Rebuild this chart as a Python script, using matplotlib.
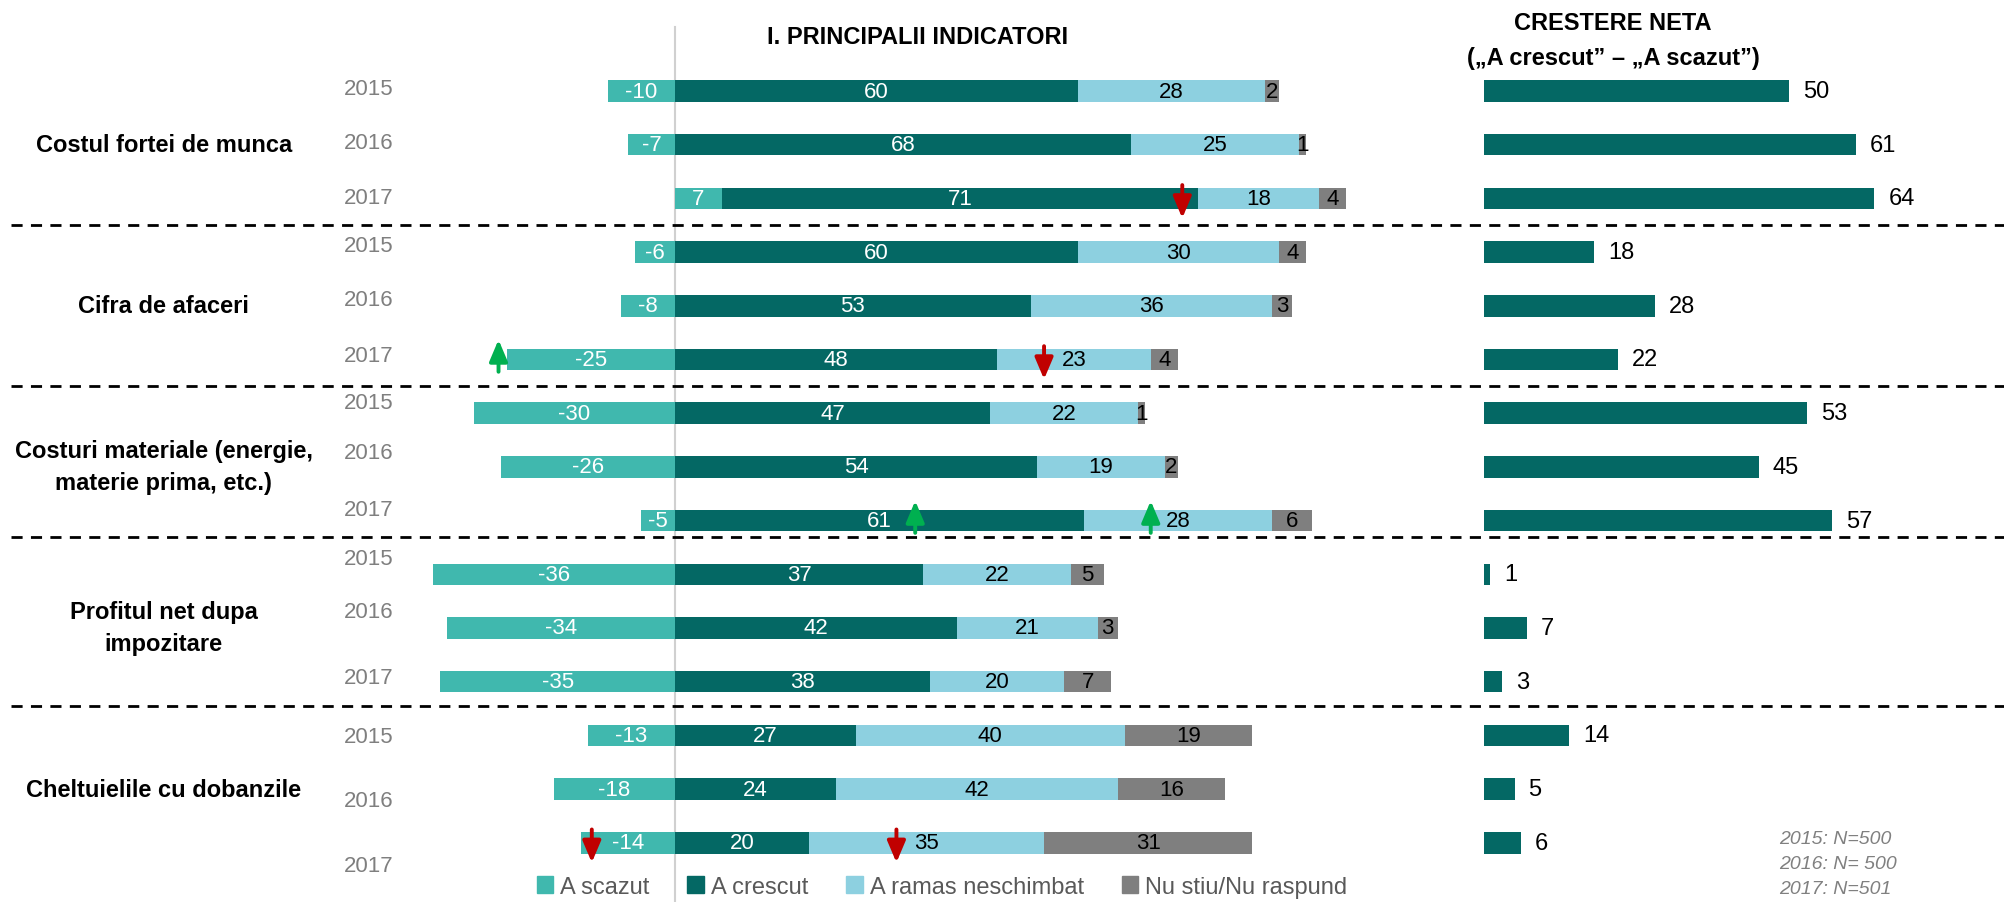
import matplotlib
matplotlib.use("Agg")
import matplotlib.pyplot as plt
from matplotlib.patches import Patch
import numpy as np

plt.rcParams['font.family'] = ['Liberation Sans Narrow', 'Liberation Sans', 'DejaVu Sans']

# data (percent)
categories = ["Costul fortei de munca", "Cifra de afaceri",
              "Costuri materiale (energie,\nmaterie prima, etc.)",
              "Profitul net dupa\nimpozitare", "Cheltuielile cu dobanzile"]
years = ["2015", "2016", "2017"]
scazut = [-10, -7, 7, -6, -8, -25, -30, -26, -5, -36, -34, -35, -13, -18, -14]
crescut = [60, 68, 71, 60, 53, 48, 47, 54, 61, 37, 42, 38, 27, 24, 20]
ramas = [28, 25, 18, 30, 36, 23, 22, 19, 28, 22, 21, 20, 40, 42, 35]
nustiu = [2, 1, 4, 4, 3, 4, 1, 2, 6, 5, 3, 7, 19, 16, 31]
net = [50, 61, 64, 18, 28, 22, 53, 45, 57, 1, 7, 3, 14, 5, 6]
# significance arrows: (row, x, direction)
arrows = [(2, 75.6, "down"), (5, -26.3, "up"), (5, 55, "down"),
          (8, 35.8, "up"), (8, 70.9, "up"), (14, -12.4, "down"), (14, 33, "down")]
legend_labels = ["A scazut", "A crescut", "A ramas neschimbat", "Nu stiu/Nu raspund"]
notes = ["2015: N=500", "2016: N= 500", "2017: N=501"]

# layout: vertical nudges of the year labels (in rows), as in the original slide
year_dy = [-0.05, -0.05, -0.02, -0.12, -0.12, -0.07, -0.19, -0.26, -0.21,
           -0.29, -0.31, -0.07, 0.02, 0.21, 0.43]

c_scazut = "#40B8AE"
c_crescut = "#046864"
c_ramas = "#8DD0E0"
c_nustiu = "#7F7F7F"

W, H = 2004, 903
fig = plt.figure(figsize=(W / 100, H / 100), dpi=100)

# main axes over full figure: zero at x=675px, 6.71 px/unit; rows 53.7 px apart from y=92px
px_u = 6.71
row_px = 53.7
ax = fig.add_axes([0, 0, 1, 1])
ax.set_xlim(-675 / px_u, (W - 675) / px_u)
ax.set_ylim((H - 92) / row_px, -92 / row_px)
ax.axis("off")

rows = np.arange(len(crescut))
sc = np.array(scazut)
cr = np.array(crescut)
ra = np.array(ramas)
ns = np.array(nustiu)
start_cr = np.where(sc > 0, sc, 0)
bh = 0.4

ax.plot([0, 0], [-1.19, 15.1], color="#D0D0D0", lw=1.5, zorder=1)

ax.barh(rows, sc, height=bh, color=c_scazut, zorder=2)
ax.barh(rows, cr, left=start_cr, height=bh, color=c_crescut, zorder=2)
ax.barh(rows, ra, left=start_cr + cr, height=bh, color=c_ramas, zorder=2)
ax.barh(rows, ns, left=start_cr + cr + ra, height=bh, color=c_nustiu, zorder=2)

fs = 16
for i in rows:
    ax.text(sc[i] / 2, i, str(sc[i]), ha="center", va="center", color="white", fontsize=fs, zorder=3)
    ax.text(start_cr[i] + cr[i] / 2, i, str(cr[i]), ha="center", va="center", color="white", fontsize=fs, zorder=3)
    ax.text(start_cr[i] + cr[i] + ra[i] / 2, i, str(ra[i]), ha="center", va="center", color="black", fontsize=fs, zorder=3)
    ax.text(start_cr[i] + cr[i] + ra[i] + ns[i] / 2, i, str(ns[i]), ha="center", va="center", color="black", fontsize=fs, zorder=3)
    ax.text(-45.7, i + year_dy[i], years[i % 3], ha="center", va="center", color="#7F7F7F", fontsize=fs)

for g, cat in enumerate(categories):
    ax.text(-76.2, 3 * g + 1, cat, ha="center", va="center", fontsize=fs + 1, fontweight="bold",
            linespacing=1.5)

for yd in [2.5, 5.5, 8.3, 11.45]:
    ax.plot([-99, 200], [yd, yd], color="black", lw=2, ls=(0, (4, 3)), zorder=1)

for r, x, d in arrows:
    if d == "down":
        ax.annotate("", xy=(x, r + 0.42), xytext=(x, r - 0.3),
                    arrowprops=dict(arrowstyle="-|>,head_width=0.55,head_length=1.3", color="#C00000", lw=2.8),
                    zorder=5)
    else:
        ax.annotate("", xy=(x, r - 0.42), xytext=(x, r + 0.28),
                    arrowprops=dict(arrowstyle="-|>,head_width=0.55,head_length=1.3", color="#00B050", lw=2.8),
                    zorder=5)

fig.text(918 / W, 1 - 38 / H, "I. PRINCIPALII INDICATORI", ha="center", va="center",
         fontsize=fs + 1, fontweight="bold")
fig.text(1613 / W, 1 - 24 / H, "CRESTERE NETA", ha="center", va="center",
         fontsize=fs + 1, fontweight="bold")
fig.text(1613 / W, 1 - 58 / H, "(\u201eA crescut\u201d \u2013 \u201eA scazut\u201d)", ha="center", va="center",
         fontsize=fs + 1, fontweight="bold")

# right panel: net growth
px_r = 6.1
ax2 = fig.add_axes([1484 / W, 0, 500 / W, 1])
ax2.set_xlim(0, 500 / px_r)
ax2.set_ylim(ax.get_ylim())
ax2.axis("off")
ax2.barh(rows, net, height=bh, color=c_crescut)
for i in rows:
    ax2.text(net[i] + 2.3, i, str(net[i]), ha="left", va="center", fontsize=fs + 1, color="black")

handles = [Patch(color=c) for c in [c_scazut, c_crescut, c_ramas, c_nustiu]]
leg = fig.legend(handles, legend_labels, loc="center", bbox_to_anchor=(942 / W, 1 - 888 / H),
                 ncol=4, frameon=False, fontsize=fs + 1, handlelength=0.7, handleheight=0.7,
                 handletextpad=0.3, columnspacing=1.6)
for t in leg.get_texts():
    t.set_color("#595959")

for k, n in enumerate(notes):
    fig.text(1779 / W, 1 - (840 + 25 * k) / H, n, ha="left", va="center", fontsize=14,
             style="italic", color="#808080")

fig.savefig("out.png", dpi=100)
